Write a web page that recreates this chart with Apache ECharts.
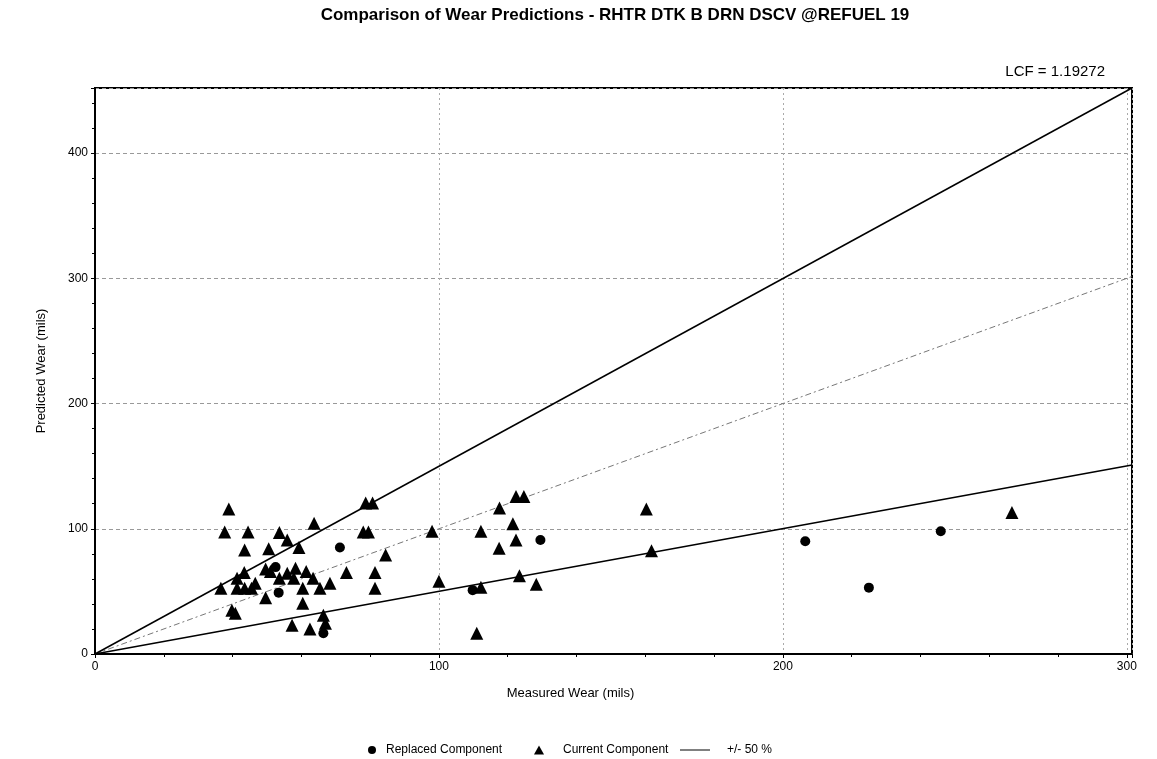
<!DOCTYPE html>
<html>
<head>
<meta charset="utf-8">
<script src="https://cdn.jsdelivr.net/npm/echarts@6/dist/echarts.min.js"></script>
<style>html,body{margin:0;padding:0;background:#fff}#c{width:1157px;height:759px}</style>
</head>
<body>
<div id="c"></div>
<script>
// Data
const replaced = [
  [71.2, 85], [53.4, 49], [52.5, 69.4], [66.4, 16.5], [129.5, 91],
  [109.8, 51], [206.5, 90], [225, 53], [245.9, 98]
];
const current = [
  [38.9, 115.8], [37.7, 97.4], [44.5, 97.4], [43.5, 83], [53.6, 97], [55.9, 91],
  [59.3, 85], [50.5, 84], [63.7, 104.5], [78.7, 120.5], [80.7, 120.5], [78, 97.4],
  [79.5, 97.4], [81.4, 65], [73.1, 65], [81.4, 52.5], [36.6, 52.5], [41.3, 60.5],
  [43.4, 65], [41.3, 52.5], [43.5, 52.5], [45.5, 52.5], [46.6, 56.5], [49.6, 45],
  [49.6, 67.8], [51, 65.8], [53.6, 60.5], [55.9, 64.5], [58.3, 68.5], [57.8, 60.5],
  [61.4, 65.8], [60.4, 52.5], [63.4, 60.5], [65.4, 52.5], [68.3, 56.5], [60.4, 40.5],
  [39.8, 35], [40.8, 32.5], [66.4, 31], [67, 24.5], [57.3, 23], [62.5, 20],
  [122.4, 125.8], [124.7, 125.8], [117.6, 116.5], [121.5, 104], [112.2, 98], [98, 98],
  [122.4, 91], [117.5, 84.5], [84.5, 79], [100, 58], [123.4, 62.4], [128.3, 55.7],
  [112.2, 53.4], [111, 16.5], [160.3, 115.8], [161.8, 82.4], [266.6, 113]
];
const upperBand = [[0, 0], [301.5, 452]];
const lowerBand = [[0, 0], [301.5, 151]];
const parity = [[0, 0], [301.5, 301.5]];

const titleText = 'Comparison of Wear Predictions - RHTR DTK B DRN DSCV @REFUEL 19';
const lcfText = 'LCF = 1.19272';
const xName = 'Measured Wear (mils)';
const yName = 'Predicted Wear (mils)';
const names = ['Replaced Component', 'Current Component', '+/- 50 %'];

const chart = echarts.init(document.getElementById('c'), null, {renderer: 'canvas'});
const font = 'Arial, "Liberation Sans", sans-serif';
const legendText = {fontFamily: font, fontSize: 12, color: '#000'};

chart.setOption({
  animation: false,
  backgroundColor: '#fff',
  title: [
    {text: titleText, left: 610, top: 2, textAlign: 'center',
     textStyle: {fontFamily: font, fontSize: 17, fontWeight: 'bold', color: '#000'}},
    {text: lcfText, right: 47, top: 59,
     textStyle: {fontFamily: font, fontSize: 15, fontWeight: 'normal', color: '#000'}}
  ],
  grid: {left: 95, right: 25, top: 88, bottom: 105, show: true, borderColor: '#000', borderWidth: 2, backgroundColor: 'transparent'},
  xAxis: {
    type: 'value', min: 0, max: 301.5, interval: 100,
    name: xName, nameLocation: 'middle', nameGap: 33,
    nameTextStyle: {fontFamily: font, fontSize: 13, color: '#000', padding: [0, 86, 0, 0]},
    axisLine: {show: true, lineStyle: {color: '#000', width: 2}},
    axisTick: {show: true, length: 4, lineStyle: {color: '#000'}},
    minorTick: {show: true, splitNumber: 5, length: 3, lineStyle: {color: '#000'}},
    axisLabel: {fontFamily: font, fontSize: 12, color: '#000', margin: 7, showMaxLabel: false},
    splitLine: {show: true, lineStyle: {color: '#aaa', type: [2, 3], width: 1}}
  },
  yAxis: {
    type: 'value', min: 0, max: 452, interval: 100,
    name: yName, nameLocation: 'middle', nameGap: 47,
    nameTextStyle: {fontFamily: font, fontSize: 13, color: '#000'},
    axisLine: {show: true, lineStyle: {color: '#000', width: 2}},
    axisTick: {show: true, length: 4, lineStyle: {color: '#000'}},
    minorTick: {show: true, splitNumber: 5, length: 3, lineStyle: {color: '#000'}},
    axisLabel: {fontFamily: font, fontSize: 12, color: '#000', margin: 7, showMaxLabel: false},
    splitLine: {show: true, lineStyle: {color: '#999', type: [4, 3], width: 1}}
  },
  legend: [
    {data: [{name: names[0], icon: 'circle'}], left: 363, top: 739, itemWidth: 18, itemHeight: 8,
     textStyle: legendText},
    {data: [{name: names[1], icon: 'triangle'}], left: 529, top: 739, itemWidth: 10, itemHeight: 9,
     textStyle: Object.assign({padding: [0, 0, 0, 14]}, legendText)},
    {data: [{name: names[2], icon: 'rect'}], left: 675, top: 739, itemWidth: 30, itemHeight: 1,
     textStyle: Object.assign({padding: [0, 0, 0, 12]}, legendText)}
  ],
  series: [
    {name: names[2], type: 'line', data: upperBand, symbol: 'none', silent: true,
     lineStyle: {color: '#000', width: 1.5}, itemStyle: {color: '#000'}, z: 3},
    {name: names[2], type: 'line', data: lowerBand, symbol: 'none', silent: true,
     lineStyle: {color: '#000', width: 1.5}, itemStyle: {color: '#000'}, z: 3},
    {name: 'parity', type: 'line', data: parity, symbol: 'none', silent: true,
     lineStyle: {color: '#777', width: 1, type: [6, 3, 2, 3]}, z: 2},
    {name: names[0], type: 'scatter', data: replaced, symbol: 'circle', symbolSize: 10,
     itemStyle: {color: '#000', opacity: 1}, z: 5},
    {name: names[1], type: 'scatter', data: current, symbol: 'triangle', symbolSize: 13,
     itemStyle: {color: '#000', opacity: 1}, z: 5}
  ]
});
</script>
</body>
</html>
